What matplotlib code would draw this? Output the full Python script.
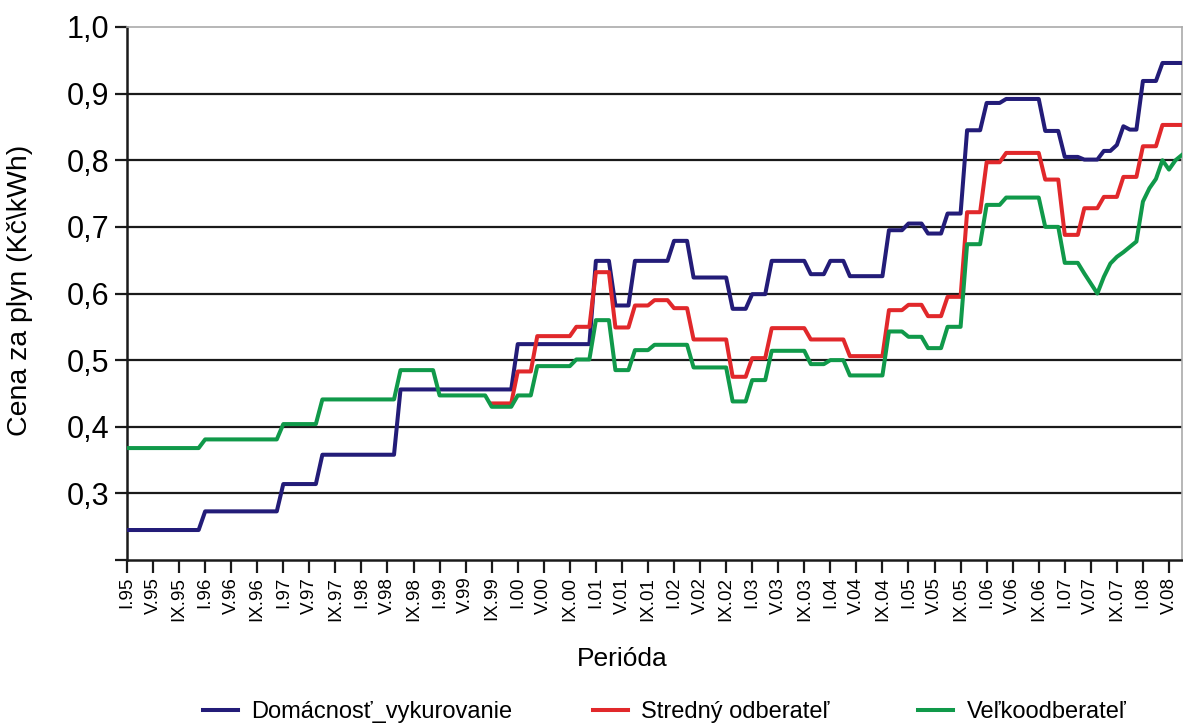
import numpy as np
import matplotlib
matplotlib.use('Agg')
import matplotlib.pyplot as plt
from matplotlib.lines import Line2D

plt.rcParams['font.family'] = ['Liberation Sans', 'DejaVu Sans']

# Monthly prices I.1995 .. VII.2008, stored as (number of months, value) runs
blue_runs = [(12, 0.245), (12, 0.273), (6, 0.314), (12, 0.358), (18, 0.456),
             (12, 0.524), (3, 0.649), (3, 0.582), (6, 0.649), (3, 0.679),
             (6, 0.624), (3, 0.577), (3, 0.599), (6, 0.649), (3, 0.629),
             (3, 0.649), (6, 0.626), (3, 0.695), (3, 0.705), (3, 0.690),
             (3, 0.720), (3, 0.845), (3, 0.886), (6, 0.892), (3, 0.844),
             (3, 0.805), (3, 0.801), (2, 0.814), (1, 0.823), (1, 0.851),
             (2, 0.846), (3, 0.919), (4, 0.946)]
red_runs = [(56, np.nan), (4, 0.435), (3, 0.483), (6, 0.536), (3, 0.550),
            (3, 0.632), (3, 0.549), (3, 0.582), (3, 0.590), (3, 0.578),
            (6, 0.531), (3, 0.475), (3, 0.503), (6, 0.548), (6, 0.531),
            (6, 0.506), (3, 0.575), (3, 0.583), (3, 0.566), (3, 0.595),
            (3, 0.722), (3, 0.797), (6, 0.811), (3, 0.771), (3, 0.688),
            (3, 0.728), (3, 0.745), (3, 0.775), (3, 0.821), (4, 0.853)]
green_runs = [(12, 0.368), (12, 0.381), (6, 0.404), (12, 0.441), (6, 0.485),
              (8, 0.447), (4, 0.430), (3, 0.447), (6, 0.491), (3, 0.501),
              (3, 0.560), (3, 0.485), (3, 0.515), (6, 0.523), (6, 0.489),
              (3, 0.438), (3, 0.470), (6, 0.514), (3, 0.494), (3, 0.500),
              (6, 0.477), (3, 0.543), (3, 0.535), (3, 0.518), (3, 0.550),
              (3, 0.674), (3, 0.733), (6, 0.744), (3, 0.700), (3, 0.646),
              (1, 0.630), (1, 0.615), (1, 0.600), (1, 0.625), (1, 0.645),
              (1, 0.655), (1, 0.662), (1, 0.670), (1, 0.678), (1, 0.738),
              (1, 0.758), (1, 0.772), (1, 0.800), (1, 0.786), (1, 0.800),
              (1, 0.808)]

series_names = ['Domácnosť_vykurovanie', 'Stredný odberateľ', 'Veľkoodberateľ']
series_colors = ['#231c78', '#e1282b', '#10994a']

tick_months = ['I', 'V', 'IX']
tick_years = ['95', '96', '97', '98', '99', '00', '01', '02',
              '03', '04', '05', '06', '07', '08']
y_ticks = [0.2, 0.3, 0.4, 0.5, 0.6, 0.7, 0.8, 0.9, 1.0]
y_labels = ['', '0,3', '0,4', '0,5', '0,6', '0,7', '0,8', '0,9', '1,0']


def expand(runs):
    counts = [c for c, v in runs]
    vals = [v for c, v in runs]
    return np.repeat(vals, counts)


data = [expand(blue_runs), expand(red_runs), expand(green_runs)]
n = len(data[0])
x = np.arange(n)

tick_labels = ['%s.%s' % (m, y) for y in tick_years for m in tick_months]
tick_labels = tick_labels[:41]
tick_pos = np.arange(len(tick_labels)) * 4

W, H = 1183, 725
fig = plt.figure(figsize=(W/100, H/100), dpi=100)
ax = fig.add_axes([127/W, 1 - 560/H, 1055/W, 533/H])

for yv in y_ticks[1:-1]:
    ax.axhline(yv, color='#1a1a1a', lw=1.6, zorder=1)

for vals, name, col in zip(data, series_names, series_colors):
    ax.plot(x, vals, color=col, lw=2.9, label=name, zorder=3)

ax.set_xlim(0, n - 1)
ax.set_ylim(0.2, 1.0)
ax.set_yticks(y_ticks)
ax.set_yticklabels(y_labels, fontsize=22)
ax.set_xticks(tick_pos)
ax.set_xticklabels(tick_labels, rotation=90, fontsize=13.5)
ax.tick_params(axis='both', direction='out', length=9, width=1.6, color='#1a1a1a')
ax.tick_params(axis='x', pad=3)
ax.tick_params(axis='y', pad=4)

for side in ['left', 'bottom']:
    ax.spines[side].set_color('#1a1a1a')
    ax.spines[side].set_linewidth(1.8)
for side in ['top', 'right']:
    ax.spines[side].set_color('#aaaaaa')
    ax.spines[side].set_linewidth(1.2)

ax.set_ylabel('Cena za plyn (Kč\\kWh)', fontsize=20.5)
ax.yaxis.set_label_coords((33 - 127)/1055, (560 - 290)/533)
ax.set_xlabel('Perióda', fontsize=19)
ax.xaxis.set_label_coords((622 - 127)/1055, (560 - 647)/533)

# legend: one entry per column, placed where the reference has them
legend_x = [203, 593, 918]
for name, col, lx in zip(series_names, series_colors, legend_x):
    h = Line2D([], [], color=col, lw=2.9)
    fig.legend([h], [name], loc='center left', bbox_to_anchor=(lx/W, 1 - 712/H),
               frameon=False, fontsize=17, handlelength=1.5, handletextpad=0.55,
               borderpad=0, borderaxespad=0)

fig.savefig('out.png', dpi=100)
